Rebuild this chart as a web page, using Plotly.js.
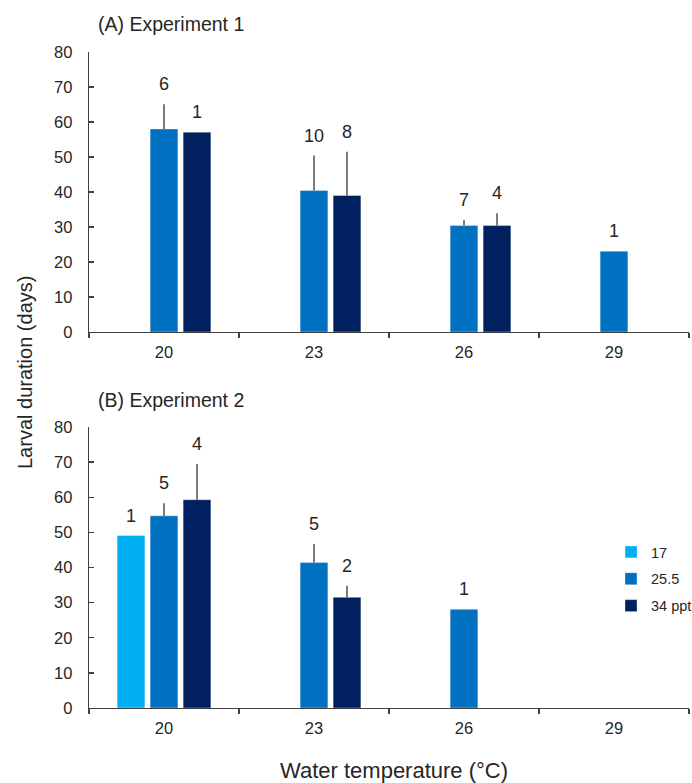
<!DOCTYPE html>
<html>
<head>
<meta charset="utf-8">
<script src="https://cdn.plot.ly/plotly-3.0.1.min.js"></script>
<style>html,body{margin:0;padding:0;background:#fff;}#chart{width:692px;height:783px;}</style>
</head>
<body>
<div id="chart"></div>
<script>
// ---- data ----
const temperatures = ["20", "23", "26", "29"];
const salinityNames = ["17", "25.5", "34 ppt"];

// Experiment 1 (A)
const expA_17   = [null, null, null, null];
const expA_25_5 = [58, 40.4, 30.4, 23.1];
const expA_34   = [57.1, 39.0, 30.4, null];
const expA_err_17   = [null, null, null, null];
const expA_err_25_5 = [7.1, 10, 1.6, null];
const expA_err_34   = [null, 12.5, 3.5, null];
const expA_n_17   = [null, null, null, null];
const expA_n_25_5 = ["6", "10", "7", "1"];
const expA_n_34   = ["1", "8", "4", null];

// Experiment 2 (B)
const expB_17   = [49.1, null, null, null];
const expB_25_5 = [54.7, 41.4, 28.1, null];
const expB_34   = [59.3, 31.5, null, null];
const expB_err_17   = [null, null, null, null];
const expB_err_25_5 = [3.6, 5.3, null, null];
const expB_err_34   = [10.2, 3.3, null, null];
const expB_n_17   = ["1", null, null, null];
const expB_n_25_5 = ["5", "5", "1", null];
const expB_n_34   = ["4", "2", null, null];

// ---- styles ----
const colors = ["#00B0F0", "#0070C0", "#002060"];
const FONT = "Liberation Sans, Arial, sans-serif";
const TXT = "#262626";
const AX = "#404040";
const barW = 0.185;
const slotCenters = [-0.22, 0, 0.22];

const W = 692, H = 783;
const mL = 89, mR = 3, mT = 52, mB = 75;
const pw = W - mL - mR, ph = H - mT - mB;
const px2x = p => (p - mL) / pw;
const px2y = p => (H - mB - p) / ph;

const experiments = [
  {vals: [expA_17, expA_25_5, expA_34], errs: [expA_err_17, expA_err_25_5, expA_err_34], ns: [expA_n_17, expA_n_25_5, expA_n_34], xa: "x", ya: "y", legend: false},
  {vals: [expB_17, expB_25_5, expB_34], errs: [expB_err_17, expB_err_25_5, expB_err_34], ns: [expB_n_17, expB_n_25_5, expB_n_34], xa: "x2", ya: "y2", legend: true}
];

const traces = [];
const annotations = [];
experiments.forEach(exp => {
  exp.vals.forEach((vals, s) => {
    traces.push({
      type: "bar",
      x: temperatures,
      y: vals,
      name: salinityNames[s],
      legendgroup: "g" + s,
      showlegend: exp.legend,
      xaxis: exp.xa, yaxis: exp.ya,
      width: barW,
      offset: slotCenters[s] - barW / 2,
      marker: {color: colors[s], line: {color: "rgba(255,255,255,0.6)", width: 0.6}},
      error_y: {type: "data", symmetric: false, array: exp.errs[s], arrayminus: exp.errs[s].map(() => 0),
                color: "#333333", thickness: 1.3, width: 0},
      hoverinfo: "x+y"
    });
    vals.forEach((v, i) => {
      const n = exp.ns[s][i];
      if (v === null || n === null) return;
      const top = v + (exp.errs[s][i] || 0);
      annotations.push({
        xref: exp.xa, yref: exp.ya,
        x: i + slotCenters[s], y: top,
        text: n, showarrow: false,
        yanchor: "middle", yshift: 20,
        font: {family: FONT, size: 18, color: TXT}
      });
    });
  });
});

// titles
annotations.push({xref: "paper", yref: "paper", x: px2x(96), y: px2y(24), xanchor: "left", yanchor: "middle",
  text: "(A) Experiment 1", showarrow: false, font: {family: FONT, size: 19.5, color: TXT}});
annotations.push({xref: "paper", yref: "paper", x: px2x(96), y: px2y(400), xanchor: "left", yanchor: "middle",
  text: "(B) Experiment 2", showarrow: false, font: {family: FONT, size: 19.5, color: TXT}});
annotations.push({xref: "paper", yref: "paper", x: px2x(25), y: px2y(373), xanchor: "center", yanchor: "middle",
  text: "Larval duration (days)", textangle: -90, showarrow: false, font: {family: FONT, size: 20, color: TXT}});
annotations.push({xref: "paper", yref: "paper", x: px2x(394), y: px2y(770), xanchor: "center", yanchor: "middle",
  text: "Water temperature (°C)", showarrow: false, font: {family: FONT, size: 22, color: TXT}});

const xaxisBase = {
  type: "category", range: [-0.5, 3.5], showline: true, linecolor: AX, linewidth: 1.3,
  ticks: "outside", ticklen: 5, tickcolor: AX, tickwidth: 1.3, tickson: "boundaries",
  showgrid: false, zeroline: false, ticklabelstandoff: 5, automargin: false,
  tickfont: {family: FONT, size: 16.5, color: TXT}, fixedrange: true
};
const yaxisBase = {
  range: [0, 80], dtick: 10, showline: true, linecolor: AX, linewidth: 1.3,
  ticks: "inside", ticklen: 5, tickcolor: AX, tickwidth: 1.3, ticklabelstandoff: 12,
  showgrid: false, zeroline: false, automargin: false,
  tickfont: {family: FONT, size: 16.5, color: TXT}, fixedrange: true
};

const layout = {
  width: W, height: H,
  margin: {l: mL, r: mR, t: mT, b: mB, autoexpand: false},
  paper_bgcolor: "#ffffff", plot_bgcolor: "#ffffff",
  barmode: "group",
  showlegend: true,
  font: {family: FONT, color: TXT},
  xaxis: Object.assign({}, xaxisBase, {domain: [0, 1], anchor: "y"}),
  yaxis: Object.assign({}, yaxisBase, {domain: [px2y(332), 1], anchor: "x"}),
  xaxis2: Object.assign({}, xaxisBase, {domain: [0, 1], anchor: "y2"}),
  yaxis2: Object.assign({}, yaxisBase, {domain: [0, px2y(427)], anchor: "x2"}),
  legend: {x: px2x(611), y: px2y(536), xanchor: "left", yanchor: "top", xref: "paper", yref: "paper",
           font: {family: FONT, size: 14.5, color: TXT}, tracegroupgap: 5, bgcolor: "rgba(0,0,0,0)",
           traceorder: "grouped"},
  annotations: annotations
};

Plotly.newPlot("chart", traces, layout, {displayModeBar: false, staticPlot: true});
</script>
</body>
</html>
